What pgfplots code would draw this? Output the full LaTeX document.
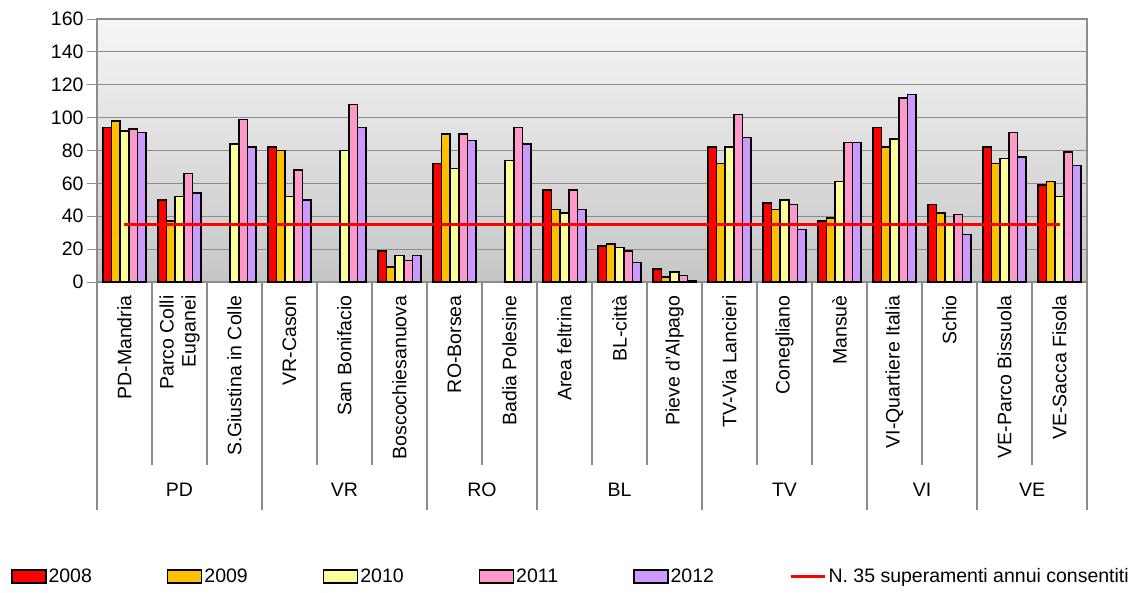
\documentclass[border=0pt]{standalone}
\usepackage{pgfplots}
\pgfplotsset{compat=1.18}
\usepackage{fontspec}
\setmainfont{Liberation Sans}
\definecolor{c08}{RGB}{255,0,0}
\definecolor{c09}{RGB}{255,192,0}
\definecolor{c10}{RGB}{255,255,153}
\definecolor{c11}{RGB}{255,153,204}
\definecolor{c12}{RGB}{204,153,255}
\definecolor{sepgray}{RGB}{140,140,140}
\newcommand{\f}{\fontsize{19.5}{22}\selectfont}
\begin{document}
\begin{tikzpicture}
\begin{axis}[
name=ax,
scale only axis,
width=990pt, height=263pt,
ybar=0pt, bar width=0.158,
xmin=-0.5, xmax=17.5,
ymin=0, ymax=160,
ytick={0,20,...,160},
xtick={0,...,17},
xticklabels={PD-Mandria,{Parco Colli\\Euganei},S.Giustina in Colle,VR-Cason,San Bonifacio,Boscochiesanuova,RO-Borsea,Badia Polesine,Area feltrina,BL-città,Pieve d'Alpago,TV-Via Lancieri,Conegliano,Mansuè,VI-Quartiere Italia,Schio,VE-Parco Bissuola,VE-Sacca Fisola},
xticklabel style={rotate=90, anchor=east, align=right, font=\f},
yticklabel style={font=\f},
/pgf/number format/assume math mode=true,
tick pos=left,
tick align=outside,
major tick length=10pt,
major x tick style={draw=none},
y tick style={sepgray, line width=1pt},
ymajorgrids,
grid style={sepgray, line width=1pt},
axis line style={sepgray, line width=1.2pt},
axis background/.style={top color={rgb,255:red,246;green,246;blue,246}, bottom color={rgb,255:red,198;green,198;blue,198}},
clip=false,
every axis plot/.append style={draw=black, line width=1.5pt},
legend columns=6,
legend cell align=left,
legend style={draw=none, fill=none, at={(-0.087,-1.12)}, anchor=west, inner sep=0pt, font=\f,
  /tikz/every even column/.append style={column sep=73pt}},
]
\pgfplotsinvokeforeach{0.5,1.5,3.5,4.5,6.5,8.5,9.5,11.5,12.5,14.5,16.5}{
  \draw[sepgray, line width=1.2pt] (axis cs:#1,0) -- ([yshift=-183pt]axis cs:#1,0);
}
\pgfplotsinvokeforeach{-0.5,2.5,5.5,7.5,10.5,13.5,15.5,17.5}{
  \draw[sepgray, line width=1.2pt] (axis cs:#1,0) -- ([yshift=-228pt]axis cs:#1,0);
}
\node[font=\f] at ([yshift=-208pt]axis cs:1,0) {PD};
\node[font=\f] at ([yshift=-208pt]axis cs:4,0) {VR};
\node[font=\f] at ([yshift=-208pt]axis cs:6.5,0) {RO};
\node[font=\f] at ([yshift=-208pt]axis cs:9,0) {BL};
\node[font=\f] at ([yshift=-208pt]axis cs:12,0) {TV};
\node[font=\f] at ([yshift=-208pt]axis cs:14.5,0) {VI};
\node[font=\f] at ([yshift=-208pt]axis cs:16.5,0) {VE};

\addplot[fill=c08, legend image code/.code={\draw[fill=c08, draw=black, line width=1.5pt] (0pt,-6.5pt) rectangle (34pt,6.5pt);}] coordinates {
(0,94) (1,50) (3,82) (5,19) (6,72) (8,56) (9,22) (10,8) (11,82) (12,48) (13,37) (14,94) (15,47) (16,82) (17,59)};
\addplot[fill=c09, legend image code/.code={\draw[fill=c09, draw=black, line width=1.5pt] (0pt,-6.5pt) rectangle (34pt,6.5pt);}] coordinates {
(0,98) (1,37) (3,80) (5,9) (6,90) (8,44) (9,23) (10,3) (11,72) (12,44) (13,39) (14,82) (15,42) (16,72) (17,61)};
\addplot[fill=c10, legend image code/.code={\draw[fill=c10, draw=black, line width=1.5pt] (0pt,-6.5pt) rectangle (34pt,6.5pt);}] coordinates {
(0,92) (1,52) (2,84) (3,52) (4,80) (5,16) (6,69) (7,74) (8,42) (9,21) (10,6) (11,82) (12,50) (13,61) (14,87) (15,35) (16,75) (17,52)};
\addplot[fill=c11, legend image code/.code={\draw[fill=c11, draw=black, line width=1.5pt] (0pt,-6.5pt) rectangle (34pt,6.5pt);}] coordinates {
(0,93) (1,66) (2,99) (3,68) (4,108) (5,13) (6,90) (7,94) (8,56) (9,19) (10,4) (11,102) (12,47) (13,85) (14,112) (15,41) (16,91) (17,79)};
\addplot[fill=c12, legend image code/.code={\draw[fill=c12, draw=black, line width=1.5pt] (0pt,-6.5pt) rectangle (34pt,6.5pt);}] coordinates {
(0,91) (1,54) (2,82) (3,50) (4,94) (5,16) (6,86) (7,84) (8,44) (9,12) (10,1) (11,88) (12,32) (13,85) (14,114) (15,29) (16,76) (17,71)};
\addplot[sharp plot, draw=c08, line width=3.5pt, mark=none, legend image code/.code={\draw[c08, line width=3.5pt] (0pt,0pt) -- (34pt,0pt);}] coordinates {(0,35) (17,35)};
\legend{2008,2009,2010,2011,2012,N. 35 superamenti annui consentiti}
\end{axis}
\path (ax.south west) ++(-97pt,-310pt) rectangle ([xshift=61pt,yshift=19pt]ax.north east);
\end{tikzpicture}
\end{document}
